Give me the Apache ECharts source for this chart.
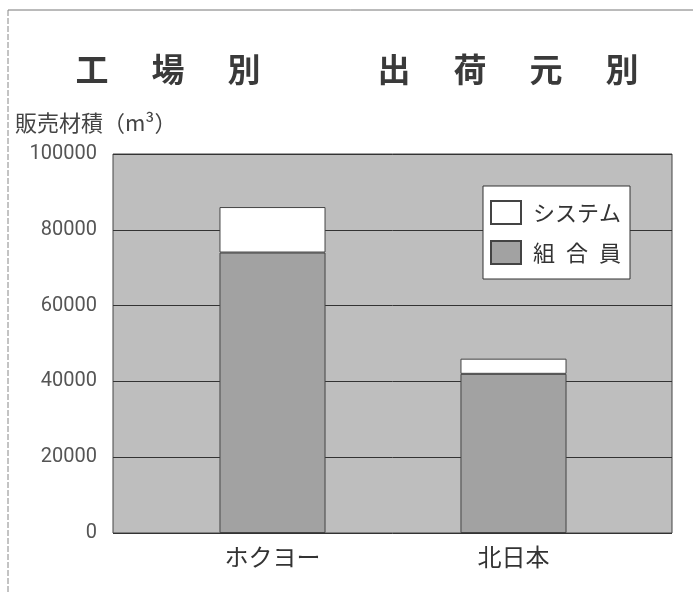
<!DOCTYPE html>
<html>
<head>
<meta charset="utf-8">
<script src="https://cdn.jsdelivr.net/npm/echarts@6/dist/echarts.min.js"></script>
<style>html,body{margin:0;padding:0;background:#fff;}#c{width:693px;height:592px;}</style>
</head>
<body>
<div id="c"></div>
<script>
const categories = ['ホクヨー', '北日本'];
const memberValues = [74000, 42000];   // 組合員
const systemValues = [12000, 4000];    // システム
const yTicks = [0, 20000, 40000, 60000, 80000, 100000];
const seriesNames = ['組合員', 'システム'];
const legendLabels = { '組合員': '組\u2002合\u2002員', 'システム': 'システム' };

const numFont = "Roboto, sans-serif";
const jpFont = "'Noto Sans CJK JP', sans-serif";

const chart = echarts.init(document.getElementById('c'), null, { renderer: 'canvas' });
chart.setOption({
  animation: false,
  backgroundColor: '#ffffff',
  graphic: [
    { type: 'line', shape: { x1: 8, y1: 10, x2: 693, y2: 10 }, style: { stroke: '#777', lineWidth: 1 } },
    { type: 'line', shape: { x1: 8, y1: 10, x2: 8, y2: 592 }, style: { stroke: '#888', lineWidth: 1, lineDash: [6, 2] } }
  ],
  title: [
    {
      text: '{c|工}{c|場}{c|別}{s|}{c|出}{c|荷}{c|元}{c|別}',
      left: 49, top: 48,
      textStyle: {
        rich: {
          c: { width: 76, align: 'center', fontSize: 33, fontWeight: 'bold', color: '#3a3a3a', fontFamily: jpFont },
          s: { width: 74, fontSize: 33 }
        }
      }
    },
    {
      text: '販売材積（m³）',
      left: 10, top: 107,
      textStyle: { fontSize: 22, fontWeight: 'normal', color: '#444', fontFamily: jpFont }
    }
  ],
  legend: {
    orient: 'vertical',
    left: 483, top: 186,
    data: ['システム', '組合員'],
    backgroundColor: '#ffffff',
    borderColor: '#333',
    borderWidth: 1,
    padding: [14, 9, 14, 7],
    itemWidth: 30,
    itemHeight: 23,
    itemGap: 15,
    icon: 'rect',
    formatter: n => legendLabels[n],
    textStyle: { fontSize: 22, color: '#333', fontFamily: jpFont, padding: [0, 0, 0, 7] }
  },
  grid: [
    { left: 113, top: 154, right: 21, bottom: 59, show: true, backgroundColor: '#bebebe', borderColor: '#444', borderWidth: 1 },
    { left: 152, top: 154, right: 59, bottom: 59 }
  ],
  xAxis: [
    { type: 'category', gridIndex: 0, data: categories, axisLine: { show: false }, axisTick: { show: false }, axisLabel: { show: false }, splitLine: { show: false } },
    { type: 'category', gridIndex: 1, data: categories, axisLine: { show: false }, axisTick: { show: false },
      axisLabel: { fontSize: 24, color: '#333', fontFamily: jpFont, margin: 12 } }
  ],
  yAxis: [
    { type: 'value', gridIndex: 0, min: 0, max: 100000, interval: 20000,
      axisLine: { show: false }, axisTick: { show: false },
      axisLabel: { fontSize: 20, color: '#555', fontFamily: numFont, margin: 16,
        formatter: v => (yTicks.indexOf(v) >= 0 ? String(v) : '') },
      splitLine: { show: true, lineStyle: { color: '#333', width: 1 } } },
    { type: 'value', gridIndex: 1, min: 0, max: 100000, interval: 20000, show: false, splitLine: { show: false } }
  ],
  series: [
    { name: seriesNames[0], type: 'bar', stack: 'total', xAxisIndex: 1, yAxisIndex: 1, barWidth: '44%',
      data: memberValues, itemStyle: { color: '#a2a2a2', borderColor: '#444', borderWidth: 1 } },
    { name: seriesNames[1], type: 'bar', stack: 'total', xAxisIndex: 1, yAxisIndex: 1, barWidth: '44%',
      data: systemValues, itemStyle: { color: '#ffffff', borderColor: '#444', borderWidth: 1 } }
  ]
});
</script>
</body>
</html>
